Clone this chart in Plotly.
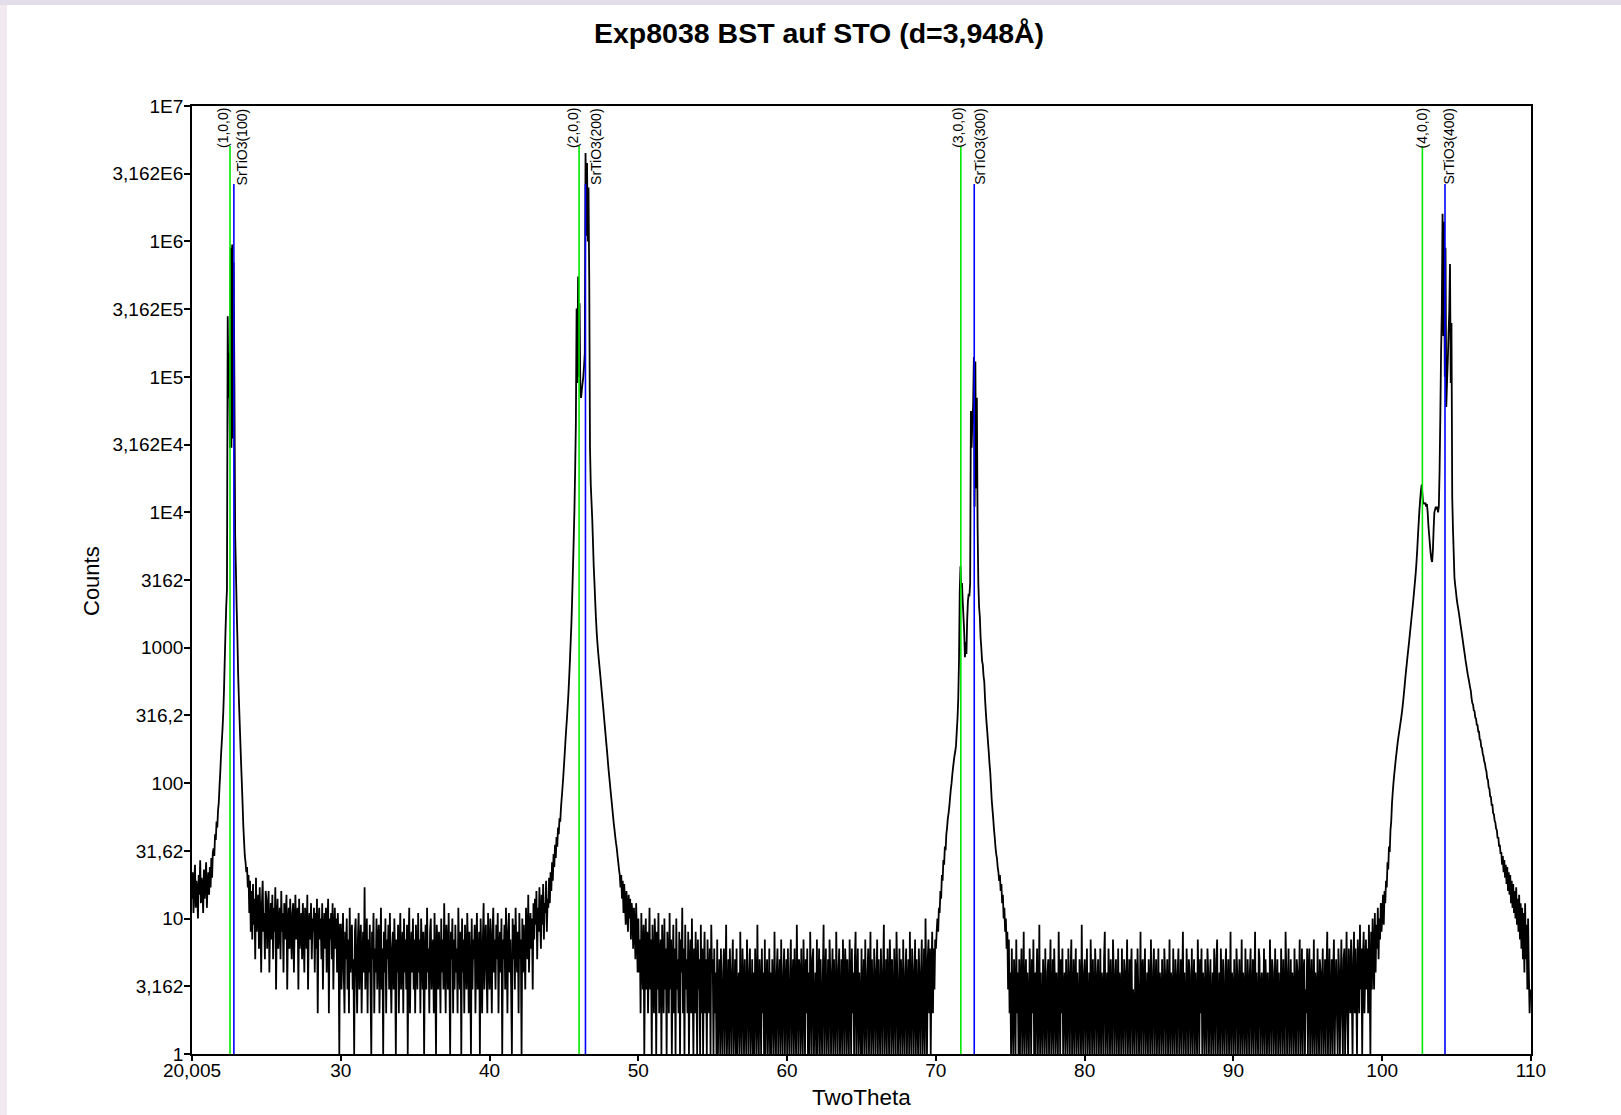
import numpy as np
import plotly.graph_objects as go

# ---- scan: Cu K-alpha theta/2theta, uniform step -------------------------
SCAN_START = 20.005   # deg 2theta
SCAN_STEP = 0.05      # deg

# counts per step, one list per 5 deg of the scan
counts_20_25 = [
    14, 22, 11, 18, 25, 12, 19, 16, 10, 21, 15, 27, 13, 20, 17, 11, 23, 14, 19, 26,
    12, 18, 22, 15, 24, 17, 28, 20, 31, 33, 29, 42, 38, 52, 47, 63, 72, 95, 120, 160,
    200, 250, 330, 480, 800, 1300, 2000, 2700, 280000, 70000, 150000, 30000, 900000, 30000, 950000, 35000, 700000, 90000, 6900, 3800,
    2000, 1200, 650, 420, 290, 200, 140, 100, 70, 48, 37, 29, 26, 22, 24, 17, 21, 11, 19, 8,
    16, 7, 18, 9, 14, 5, 20, 8, 12, 15, 6, 17, 10, 4, 13, 19, 8, 11, 5, 16,
]
counts_25_30 = [
    14, 6, 11, 16, 4, 9, 13, 7, 15, 5, 12, 8, 17, 3, 10, 14, 6, 9, 12, 5,
    16, 8, 11, 4, 13, 7, 10, 15, 3, 9, 12, 6, 14, 8, 5, 11, 13, 4, 9, 15,
    7, 10, 12, 3, 14, 6, 9, 11, 5, 13, 8, 4, 12, 10, 6, 15, 3, 9, 11, 7,
    13, 5, 10, 8, 12, 4, 11, 6, 14, 2, 9, 12, 7, 10, 5, 13, 3, 8, 11, 6,
    12, 4, 9, 14, 2, 10, 7, 11, 5, 13, 3, 8, 12, 6, 10, 4, 11, 7, 1, 9,
]
counts_30_35 = [
    9, 3, 6, 11, 4, 2, 8, 5, 10, 3, 7, 2, 12, 4, 6, 9, 3, 5, 1, 8,
    10, 4, 2, 7, 11, 3, 6, 9, 2, 5, 8, 4, 17, 3, 6, 10, 2, 7, 4, 9,
    3, 1, 8, 5, 11, 2, 6, 4, 10, 3, 7, 9, 2, 5, 12, 3, 6, 1, 8, 4,
    10, 2, 7, 5, 9, 3, 11, 4, 2, 6, 8, 3, 10, 5, 1, 7, 4, 9, 2, 6,
    11, 3, 5, 8, 2, 10, 4, 7, 3, 9, 1, 6, 12, 2, 5, 8, 4, 10, 3, 7,
]
counts_35_40 = [
    2, 9, 5, 3, 11, 4, 7, 2, 10, 6, 3, 8, 1, 5, 9, 3, 12, 4, 6, 2,
    8, 10, 3, 5, 7, 2, 11, 4, 1, 9, 6, 3, 8, 5, 2, 10, 4, 7, 3, 13,
    5, 2, 9, 6, 3, 11, 4, 1, 8, 5, 10, 2, 7, 3, 9, 4, 6, 2, 12, 5,
    3, 8, 1, 10, 4, 7, 2, 9, 5, 3, 11, 6, 2, 8, 4, 1, 10, 3, 7, 5,
    9, 2, 6, 11, 3, 4, 8, 1, 10, 5, 2, 7, 13, 3, 6, 9, 4, 2, 11, 5,
]
counts_40_45 = [
    3, 10, 6, 2, 8, 12, 4, 7, 3, 9, 5, 11, 2, 6, 8, 4, 10, 1, 7, 5,
    9, 3, 12, 6, 2, 8, 11, 4, 7, 3, 1, 10, 5, 9, 3, 12, 6, 4, 8, 2,
    11, 5, 7, 1, 10, 4, 9, 6, 3, 12, 7, 5, 15, 4, 8, 11, 6, 10, 3, 13,
    7, 14, 9, 16, 5, 12, 8, 17, 10, 6, 15, 9, 18, 7, 13, 11, 19, 8, 14, 12,
    20, 13, 22, 16, 26, 19, 30, 24, 35, 28, 40, 34, 47, 42, 55, 52, 66, 78, 92, 110,
]
counts_45_50 = [
    135, 165, 205, 250, 300, 370, 460, 600, 800, 1100, 1500, 2300, 3700, 6000, 10000, 20000, 45000, 320000, 90000, 550000,
    100000, 350000, 80000, 70000, 80000, 90000, 100000, 120000, 150000, 4500000, 1100000, 3800000, 1000000, 2500000, 500000, 30000, 16000, 12000, 9000, 6000,
    4000, 3000, 2200, 1650, 1300, 1080, 920, 800, 700, 610, 530, 460, 400, 350, 300, 260, 225, 195, 170, 145,
    125, 110, 96, 84, 74, 65, 57, 50, 45, 40, 36, 33, 29, 26, 23, 21, 17, 21, 14, 19,
    11, 18, 13, 9, 16, 12, 8, 15, 10, 14, 7, 13, 11, 6, 12, 9, 5, 13, 8, 4,
]
counts_50_55 = [
    10, 4, 7, 2, 11, 5, 3, 9, 1, 6, 10, 3, 8, 2, 5, 12, 3, 7, 1, 9,
    4, 2, 10, 6, 1, 8, 3, 11, 2, 5, 7, 1, 9, 4, 2, 10, 3, 6, 1, 8,
    5, 2, 11, 3, 7, 1, 4, 9, 2, 6, 1, 10, 3, 5, 2, 8, 1, 7, 4, 12,
    2, 6, 1, 9, 3, 5, 2, 8, 1, 4, 7, 2, 10, 3, 1, 6, 2, 8, 4, 1,
    7, 3, 5, 1, 9, 2, 6, 1, 4, 8, 2, 5, 1, 7, 3, 2, 6, 1, 9, 4,
]
counts_55_60 = [
    5, 1, 6, 2, 4, 1, 7, 1, 3, 5, 1, 6, 2, 1, 4, 6, 1, 3, 9, 1,
    2, 5, 1, 6, 3, 1, 4, 7, 1, 2, 5, 1, 6, 1, 3, 4, 1, 8, 2, 1,
    6, 3, 1, 5, 2, 1, 7, 4, 1, 3, 6, 1, 2, 5, 1, 4, 1, 6, 3, 1,
    9, 2, 1, 5, 3, 1, 6, 2, 4, 1, 7, 1, 3, 5, 1, 2, 6, 1, 4, 1,
    5, 3, 1, 8, 2, 1, 4, 6, 1, 3, 5, 1, 7, 2, 1, 4, 6, 1, 3, 5,
]
counts_60_65 = [
    1, 6, 2, 1, 4, 7, 1, 3, 5, 1, 6, 2, 1, 9, 3, 1, 5, 4, 1, 6,
    2, 1, 7, 3, 1, 5, 2, 6, 1, 4, 1, 8, 3, 1, 5, 6, 1, 2, 4, 1,
    7, 1, 3, 6, 1, 5, 2, 1, 4, 9, 1, 3, 6, 1, 2, 5, 1, 7, 4, 1,
    3, 6, 1, 5, 2, 1, 8, 3, 1, 4, 6, 1, 2, 5, 1, 7, 3, 1, 6, 4,
    1, 5, 2, 1, 7, 3, 1, 6, 2, 4, 1, 5, 8, 1, 3, 6, 1, 4, 2, 1,
]
counts_65_70 = [
    6, 1, 3, 5, 1, 7, 2, 1, 4, 6, 1, 3, 8, 1, 5, 2, 1, 6, 4, 1,
    3, 7, 1, 5, 2, 1, 6, 3, 1, 4, 9, 1, 2, 5, 1, 6, 3, 1, 7, 4,
    1, 5, 2, 1, 6, 3, 1, 8, 4, 1, 2, 6, 1, 5, 3, 1, 7, 2, 1, 4,
    6, 1, 3, 5, 1, 8, 2, 1, 6, 4, 1, 3, 7, 1, 5, 2, 1, 6, 3, 1,
    4, 7, 1, 2, 6, 1, 10, 3, 1, 5, 7, 2, 6, 1, 4, 8, 2, 6, 3, 7,
]
counts_70_75 = [
    6, 8, 10, 8, 12, 11, 16, 14, 21, 19, 27, 25, 34, 32, 42, 47, 55, 60, 67, 78,
    90, 100, 115, 130, 145, 160, 172, 190, 240, 300, 420, 800, 2600, 4000, 2800, 3000, 2200, 1700, 1300, 850,
    1100, 900, 1600, 2200, 2500, 2400, 3000, 56000, 30000, 50000, 60000, 140000, 11000, 130000, 15000, 70000, 8000, 3000, 2000, 1700,
    1200, 1000, 800, 750, 620, 560, 420, 340, 280, 240, 200, 170, 140, 120, 95, 75, 64, 55, 46, 40,
    34, 30, 28, 24, 22, 19, 21, 16, 18, 13, 15, 10, 12, 8, 10, 6, 8, 3, 7, 2,
]
counts_75_80 = [
    4, 1, 6, 2, 1, 5, 3, 1, 7, 2, 4, 1, 5, 1, 3, 6, 1, 2, 8, 1,
    3, 5, 1, 4, 2, 1, 6, 3, 1, 5, 2, 7, 1, 4, 1, 3, 6, 1, 2, 9,
    1, 4, 2, 1, 5, 3, 1, 6, 2, 1, 4, 5, 1, 3, 7, 1, 2, 5, 1, 6,
    3, 1, 4, 2, 1, 8, 3, 1, 5, 2, 6, 1, 3, 4, 1, 5, 2, 1, 6, 3,
    1, 4, 7, 1, 2, 5, 1, 3, 6, 1, 4, 2, 1, 5, 3, 1, 9, 2, 1, 4,
]
counts_80_85 = [
    5, 1, 3, 6, 1, 2, 4, 1, 7, 3, 1, 5, 2, 1, 6, 4, 1, 3, 5, 1,
    2, 6, 1, 4, 3, 1, 5, 8, 1, 2, 4, 1, 6, 3, 1, 5, 2, 1, 7, 4,
    1, 3, 5, 1, 2, 6, 1, 4, 3, 1, 6, 2, 1, 5, 4, 1, 3, 7, 1, 2,
    5, 1, 4, 6, 1, 3, 2, 1, 5, 4, 1, 6, 3, 1, 2, 8, 1, 4, 5, 1,
    3, 6, 1, 2, 4, 1, 5, 3, 1, 7, 2, 1, 4, 6, 1, 3, 5, 1, 2, 6,
]
counts_85_90 = [
    1, 4, 3, 1, 5, 2, 1, 6, 4, 1, 3, 5, 1, 2, 7, 1, 4, 3, 1, 6,
    2, 1, 5, 3, 1, 4, 6, 1, 2, 5, 1, 3, 8, 1, 4, 2, 1, 6, 3, 1,
    5, 4, 1, 2, 6, 1, 3, 5, 1, 4, 2, 1, 7, 3, 1, 5, 2, 6, 1, 4,
    3, 1, 5, 2, 1, 6, 4, 1, 3, 5, 1, 2, 4, 1, 6, 3, 1, 5, 7, 1,
    2, 4, 1, 6, 3, 1, 5, 2, 1, 4, 6, 1, 3, 5, 1, 2, 8, 1, 4, 3,
]
counts_90_95 = [
    1, 5, 2, 1, 6, 4, 1, 3, 5, 1, 2, 7, 1, 4, 3, 1, 6, 2, 1, 5,
    3, 1, 4, 6, 1, 2, 5, 1, 3, 8, 1, 4, 2, 1, 6, 5, 1, 3, 4, 1,
    2, 6, 1, 5, 3, 1, 4, 2, 1, 7, 3, 1, 5, 4, 1, 2, 6, 1, 3, 5,
    1, 4, 2, 1, 6, 3, 1, 5, 2, 1, 8, 4, 1, 3, 6, 1, 2, 5, 1, 4,
    3, 1, 6, 2, 1, 5, 4, 1, 3, 7, 1, 2, 6, 1, 4, 5, 1, 3, 2, 6,
]
counts_95_100 = [
    1, 4, 6, 1, 3, 5, 1, 2, 7, 1, 4, 3, 1, 6, 2, 1, 5, 4, 1, 3,
    6, 1, 2, 5, 1, 4, 8, 1, 3, 6, 1, 2, 5, 1, 4, 7, 1, 3, 5, 2,
    1, 6, 4, 1, 3, 7, 2, 1, 5, 6, 1, 3, 8, 2, 1, 6, 4, 2, 7, 3,
    1, 5, 8, 2, 6, 3, 1, 7, 4, 2, 9, 3, 6, 1, 5, 8, 2, 4, 7, 3,
    6, 2, 9, 4, 1, 8, 3, 10, 5, 3, 11, 4, 9, 6, 12, 5, 10, 7, 13, 8,
]
counts_100_105 = [
    11, 15, 9, 16, 13, 19, 17, 26, 23, 34, 31, 45, 52, 70, 85, 100, 115, 130, 148, 165,
    185, 205, 225, 245, 268, 292, 320, 355, 400, 455, 520, 600, 680, 770, 870, 980, 1100, 1250, 1420, 1600,
    1820, 2050, 2350, 2700, 3100, 3600, 4300, 5300, 6800, 8500, 10500, 12500, 14500, 16000, 13500, 11500, 11800, 11500, 11800, 11000,
    11500, 10000, 8000, 6800, 5800, 5000, 4500, 4300, 5200, 7500, 10000, 10500, 11000, 10500, 11000, 10000, 11000, 20000, 50000, 150000,
    300000, 1600000, 200000, 1400000, 100000, 900000, 60000, 90000, 130000, 200000, 300000, 680000, 90000, 250000, 13000, 7600, 5000, 3300, 2900, 2600,
]
counts_105_110 = [
    2300, 2100, 1950, 1800, 1650, 1500, 1380, 1260, 1150, 1050, 960, 880, 800, 740, 680, 630, 590, 550, 510, 480,
    425, 390, 380, 345, 340, 305, 300, 270, 268, 240, 240, 210, 208, 185, 182, 165, 158, 145, 140, 128,
    122, 108, 106, 93, 91, 80, 79, 69, 69, 60, 59, 53, 51, 46, 45, 39, 40, 34, 35, 30,
    31, 25, 29, 22, 27, 20, 25, 18, 24, 16, 22, 15, 21, 13, 19, 12, 18, 11, 16, 10,
    17, 9, 14, 8, 15, 7, 13, 6, 12, 5, 11, 4, 13, 5, 9, 3, 10, 4, 2, 3,
]

# reference reflections (2theta, deg)
bst_labels = ["(1,0,0)", "(2,0,0)", "(3,0,0)", "(4,0,0)"]
bst_two_theta = [22.56, 46.02, 71.68, 102.70]
sto_labels = ["SrTiO3(100)", "SrTiO3(200)", "SrTiO3(300)", "SrTiO3(400)"]
sto_two_theta = [22.82, 46.45, 72.58, 104.22]

# axis ticks
x_tick_values = [20.005, 30, 40, 50, 60, 70, 80, 90, 100, 110]
x_tick_text = ["20,005", "30", "40", "50", "60", "70", "80", "90", "100", "110"]
y_tick_values = [1, 3.162, 10, 31.62, 100, 316.2, 1000, 3162, 1e4, 3.162e4,
                 1e5, 3.162e5, 1e6, 3.162e6, 1e7]
y_tick_text = ["1", "3,162", "10", "31,62", "100", "316,2", "1000", "3162", "1E4",
               "3,162E4", "1E5", "3,162E5", "1E6", "3,162E6", "1E7"]

TITLE = "Exp8038 BST auf STO (d=3,948Å)"

# ---- assemble the scan ---------------------------------------------------
scan_blocks = [counts_20_25, counts_25_30, counts_30_35, counts_35_40, counts_40_45,
               counts_45_50, counts_50_55, counts_55_60, counts_60_65, counts_65_70,
               counts_70_75, counts_75_80, counts_80_85, counts_85_90, counts_90_95,
               counts_95_100, counts_100_105, counts_105_110]
counts = [c for block in scan_blocks for c in block]
two_theta = np.round(SCAN_START + SCAN_STEP * np.arange(len(counts)), 3)

# ---- page geometry (px) --------------------------------------------------
W, H = 1621, 1115
ML, MR, MT, MB = 192, 90, 106, 61
PW, PH = W - ML - MR, H - MT - MB


def px_x(px):
    """container x pixel -> paper x"""
    return (px - ML) / PW


def px_y(py):
    """container y pixel (from top) -> paper y"""
    return (H - MB - py) / PH


FONT = "Liberation Sans, Arial, Helvetica, sans-serif"
GREEN = "#00e600"
BLUE = "#0000ff"

# horizontal nudge of each marker label relative to its line (px)
bst_label_shift = [-7, -6, -3, 0]
sto_label_shift = [8, 10, 5, 3]

fig = go.Figure()
fig.add_trace(go.Scatter(
    x=two_theta, y=counts, mode="lines",
    line=dict(color="black", width=1.8, simplify=False),
    hoverinfo="skip",
))

shapes = []
annotations = []

# reflection markers with vertical labels
green_top = px_y(146)
blue_top = px_y(184)
label_top = px_y(107)
for tt, lab, dx in zip(bst_two_theta, bst_labels, bst_label_shift):
    shapes.append(dict(type="line", xref="x", yref="paper", x0=tt, x1=tt,
                       y0=0, y1=green_top, line=dict(color=GREEN, width=1.6),
                       layer="above"))
    annotations.append(dict(x=tt, xref="x", y=label_top, yref="paper",
                            text=lab, textangle=-90, showarrow=False,
                            xanchor="center", yanchor="top", xshift=dx,
                            borderpad=0,
                            font=dict(family=FONT, size=14, color="black")))
for tt, lab, dx in zip(sto_two_theta, sto_labels, sto_label_shift):
    shapes.append(dict(type="line", xref="x", yref="paper", x0=tt, x1=tt,
                       y0=0, y1=blue_top, line=dict(color=BLUE, width=1.6),
                       layer="above"))
    annotations.append(dict(x=tt, xref="x", y=label_top, yref="paper",
                            text=lab, textangle=-90, showarrow=False,
                            xanchor="center", yanchor="top", xshift=dx,
                            borderpad=0,
                            font=dict(family=FONT, size=14, color="black")))

# title and axis titles
annotations.append(dict(x=px_x(819), y=px_y(33), xref="paper", yref="paper",
                        text="<b>" + TITLE + "</b>", showarrow=False,
                        xanchor="center", yanchor="middle",
                        font=dict(family=FONT, size=28.5, color="black")))
annotations.append(dict(x=px_x(861), y=px_y(1097), xref="paper", yref="paper",
                        text="TwoTheta", showarrow=False,
                        xanchor="center", yanchor="middle",
                        font=dict(family=FONT, size=22.5, color="black")))
annotations.append(dict(x=px_x(91), y=px_y(581), xref="paper", yref="paper",
                        text="Counts", showarrow=False, textangle=-90,
                        xanchor="center", yanchor="middle",
                        font=dict(family=FONT, size=22, color="black")))

# window frame tint along the top and left edges
shapes.append(dict(type="rect", xref="paper", yref="paper",
                   x0=px_x(0), x1=px_x(W), y0=px_y(5), y1=px_y(0),
                   fillcolor="#e2dde9", line=dict(width=0), layer="above"))
shapes.append(dict(type="rect", xref="paper", yref="paper",
                   x0=px_x(0), x1=px_x(7), y0=px_y(H), y1=px_y(5),
                   fillcolor="#f2eaf0", line=dict(width=0), layer="above"))

fig.update_layout(
    width=W, height=H,
    margin=dict(l=ML, r=MR, t=MT, b=MB, pad=0),
    paper_bgcolor="white", plot_bgcolor="white",
    showlegend=False,
    font=dict(family=FONT, color="black"),
    shapes=shapes, annotations=annotations,
    xaxis=dict(range=[20.005, 110], tickmode="array",
               tickvals=x_tick_values, ticktext=x_tick_text,
               ticks="outside", ticklen=5, tickwidth=1.5, tickcolor="black",
               ticklabelstandoff=-7,
               showline=True, linecolor="black", linewidth=1.8, mirror=True,
               showgrid=False, zeroline=False,
               tickfont=dict(family=FONT, size=19, color="black")),
    yaxis=dict(type="log", range=[0, 7], tickmode="array",
               tickvals=y_tick_values, ticktext=y_tick_text,
               ticks="outside", ticklen=6, tickwidth=1.5, tickcolor="black",
               ticklabelstandoff=-3,
               showline=True, linecolor="black", linewidth=1.8, mirror=True,
               showgrid=False, zeroline=False,
               tickfont=dict(family=FONT, size=19, color="black")),
)

fig.write_html("out.html", config={"displayModeBar": False})
